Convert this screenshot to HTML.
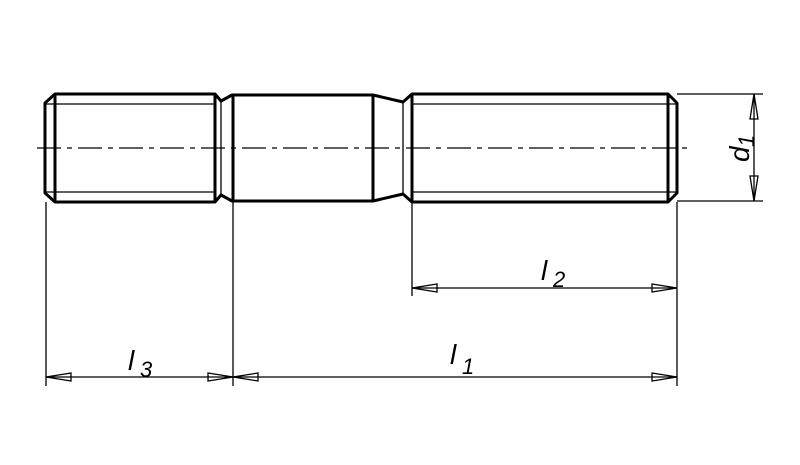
<!DOCTYPE html>
<html><head><style>html,body{margin:0;padding:0;background:#fff}</style></head>
<body>
<svg width="800" height="460" xmlns="http://www.w3.org/2000/svg">
<rect width="800" height="460" fill="#fff"/>
<g fill="none" stroke="#000" stroke-width="3" stroke-linejoin="round">
<!-- left thread -->
<path d="M55,94 L215,94 L221,101 L232,95 L373,95 L403,102 L412,94 L668,94 L677,103 L677,193 L668,202 L412,202 L403,194 L373,201 L232,201 L221,195 L215,202 L55,202 L45,193 L45,103 Z"/>
<line x1="55" y1="94" x2="55" y2="202"/>
<line x1="215" y1="94" x2="215" y2="202"/>
<line x1="233" y1="95" x2="233" y2="201"/>
<line x1="373" y1="95" x2="373" y2="201"/>
<line x1="412" y1="94" x2="412" y2="202"/>
<line x1="668" y1="94" x2="668" y2="202"/>
</g>
<g stroke="#000" stroke-width="1.3" fill="none">
<line x1="45" y1="104" x2="215" y2="104"/>
<line x1="45" y1="192" x2="215" y2="192"/>
<line x1="221" y1="101" x2="221" y2="195"/>
<line x1="403" y1="102" x2="403" y2="194"/>
<line x1="412" y1="104" x2="677" y2="104"/>
<line x1="412" y1="192" x2="677" y2="192"/>
<line x1="37" y1="148" x2="687" y2="148" stroke-dasharray="24,6,5,6"/>
<!-- extension lines -->
<line x1="46" y1="202" x2="46" y2="386"/>
<line x1="233" y1="201" x2="233" y2="386"/>
<line x1="677" y1="202" x2="677" y2="386"/>
<line x1="412" y1="202" x2="412" y2="296"/>
<line x1="677" y1="94" x2="763" y2="94"/>
<line x1="677" y1="201" x2="763" y2="201"/>
<!-- dim lines -->
<line x1="46" y1="377" x2="677" y2="377"/>
<line x1="412" y1="288" x2="677" y2="288"/>
<line x1="754" y1="94" x2="754" y2="201"/>
<!-- arrows -->
<polygon points="46,377 71,373 71,381"/>
<polygon points="233,377 208,373 208,381"/>
<polygon points="233,377 258,373 258,381"/>
<polygon points="677,377 652,373 652,381"/>
<polygon points="412,288 437,284 437,292"/>
<polygon points="677,288 652,284 652,292"/>
<polygon points="754,94 750,119 758,119"/>
<polygon points="754,201 750,176 758,176"/>
</g>
<g font-family="Liberation Sans, sans-serif" font-style="italic" fill="#000">
<text x="128" y="370" font-size="28">l</text><text x="140" y="377" font-size="22">3</text>
<text x="450" y="364" font-size="28">l</text><text x="462" y="374" font-size="22">1</text>
<text x="541" y="280" font-size="28">l</text><text x="553" y="287" font-size="22">2</text>
<g transform="translate(749,162) rotate(-90)"><text x="0" y="0" font-size="28">d</text><text x="15" y="5" font-size="22">1</text></g>
</g>
</svg>
</body></html>
